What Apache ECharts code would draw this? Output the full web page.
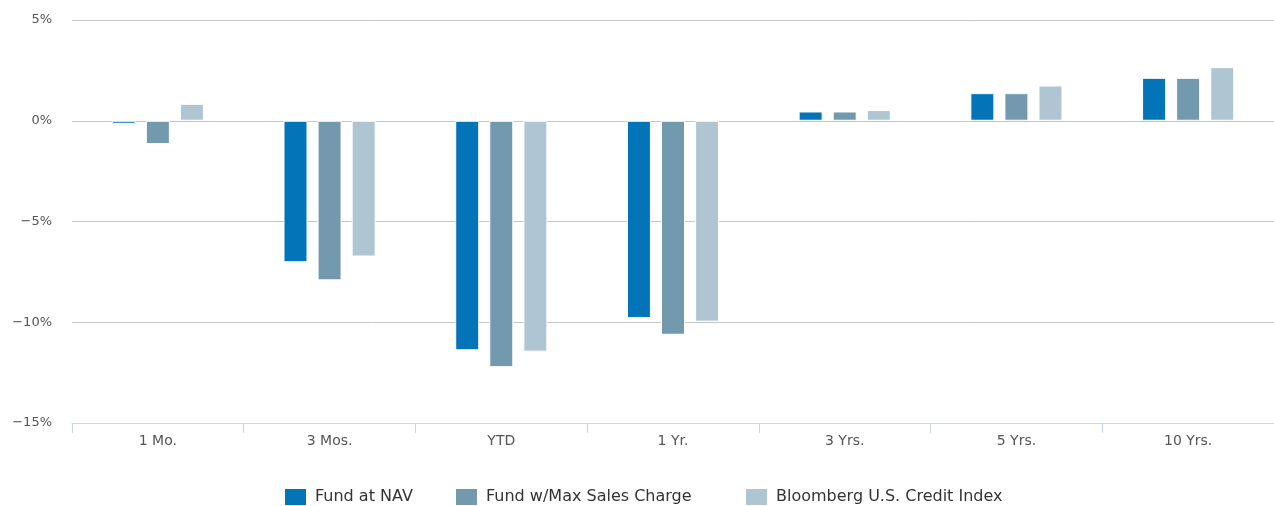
<!DOCTYPE html>
<html lang="en">
<head>
    <meta charset="utf-8">
    <title>Performance</title>
    <script src="https://cdn.jsdelivr.net/npm/echarts@6/dist/echarts.min.js"></script>
    <style>
        html, body { margin: 0; padding: 0; background: #fff; }
        #perf-chart { width: 1274px; height: 506px; }
    </style>
</head>
<body>
<div id="perf-chart"></div>
<script type="text/javascript">
    // periods on the x axis
    var periods = ['1 Mo.', '3 Mos.', 'YTD', '1 Yr.', '3 Yrs.', '5 Yrs.', '10 Yrs.'];

    // returns in %
    var fundNav = [-0.15, -7.02, -11.39, -9.79, 0.46, 1.37, 2.13];
    var fundMaxCharge = [-1.16, -7.92, -12.23, -10.62, 0.46, 1.37, 2.13];
    var creditIndex = [0.84, -6.74, -11.46, -9.97, 0.53, 1.75, 2.66];

    var seriesNames = ['Fund at NAV', 'Fund w/Max Sales Charge', 'Bloomberg U.S. Credit Index'];
    var seriesColors = ['#0474b9', '#7399ae', '#afc6d2'];
    // left edge of each legend entry (the legend is laid out by hand, one per series)
    var legendLefts = [283, 454, 744];

    var font = "'DejaVu Sans', Verdana, sans-serif";

    function makeBar(i, data) {
        return {
            name: seriesNames[i],
            type: 'bar',
            data: data,
            barWidth: 24,
            barGap: '42%',
            itemStyle: {
                color: seriesColors[i],
                borderColor: '#ffffff',
                borderWidth: 1
            }
        };
    }

    function makeLegend(i) {
        return {
            top: 487,
            left: legendLefts[i],
            padding: 0,
            itemWidth: 23,
            itemHeight: 18,
            icon: 'rect',
            selectedMode: false,
            textStyle: {
                fontFamily: font,
                fontSize: 16,
                color: '#333333',
                padding: [0, 0, 0, 3]
            },
            data: [seriesNames[i]]
        };
    }

    var myChart = echarts.init(document.getElementById('perf-chart'));

    myChart.setOption({
        animation: false,
        textStyle: { fontFamily: font },
        grid: {
            left: 72,
            right: 0,
            top: 20,
            bottom: 83,
            containLabel: false
        },
        legend: [makeLegend(0), makeLegend(1), makeLegend(2)],
        xAxis: {
            type: 'category',
            data: periods,
            axisLine: { show: true, onZero: false, lineStyle: { color: '#ccd6eb', width: 1 } },
            axisTick: {
                show: true,
                length: 10,
                alignWithLabel: false,
                lineStyle: { color: '#ccd6eb' }
            },
            axisLabel: {
                fontFamily: font,
                fontSize: 14,
                color: '#555555',
                margin: 11
            },
            splitLine: { show: false }
        },
        yAxis: {
            type: 'value',
            min: -15,
            max: 5,
            interval: 5,
            axisLine: { show: false },
            axisTick: { show: false },
            axisLabel: {
                fontFamily: font,
                fontSize: 13,
                color: '#555555',
                margin: 20,
                formatter: function (v) {
                    return String(v).replace('-', '\u2212') + '%';
                }
            },
            splitLine: { lineStyle: { color: '#c6c6c6', width: 1 } }
        },
        series: [
            makeBar(0, fundNav),
            makeBar(1, fundMaxCharge),
            makeBar(2, creditIndex)
        ]
    });
</script>
</body>
</html>
